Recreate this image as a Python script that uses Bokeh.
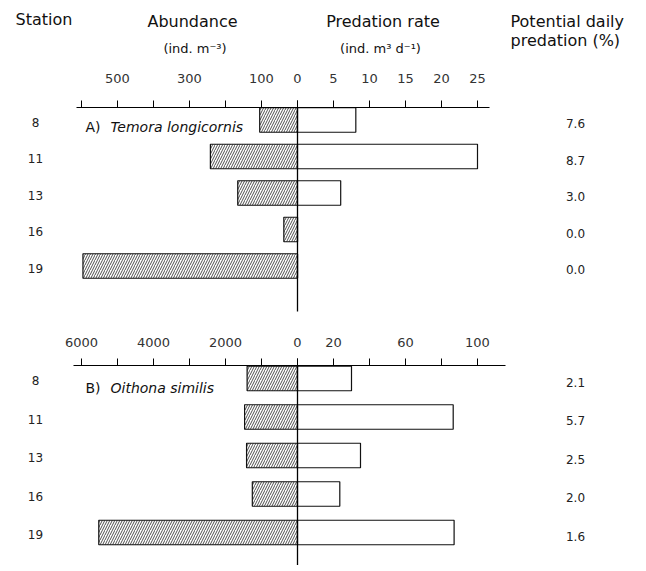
from bokeh.plotting import figure
from bokeh.models import Range1d, LinearAxis, FixedTicker, ColumnDataSource
from bokeh.core.properties import value
from bokeh.embed import file_html
from bokeh.resources import INLINE

# ---------------- data ----------------
stations = ["8", "11", "13", "16", "19"]

abund_temora = [105, 242, 166, 38, 596]          # ind. m-3
pred_temora = [8.1, 25.0, 6.0, 0.0, 0.0]         # ind. m-3 d-1
pdp_temora = ["7.6", "8.7", "3.0", "0.0", "0.0"]  # %

abund_oithona = [1400, 1470, 1415, 1255, 5520]
pred_oithona = [30.0, 86.5, 35.0, 23.5, 87.0]
pdp_oithona = ["2.1", "5.7", "2.5", "2.0", "1.6"]

abundA_ticks = [0, 100, 200, 300, 400, 500, 600]
abundA_labels = ["", "100", "", "300", "", "500", ""]
predA_ticks = [0, 5, 10, 15, 20, 25]
predA_labels = ["0", "5", "10", "15", "20", "25"]
abundB_ticks = [0, 1000, 2000, 3000, 4000, 5000, 6000]
abundB_labels = ["", "", "2000", "", "4000", "", "6000"]
predB_ticks = [0, 20, 40, 60, 80, 100]
predB_labels = ["0", "20", "", "60", "", "100"]

# ---------------- layout constants (pixels) ----------------
W, H = 638, 565
ZX = 297.0          # x of the zero line
PX = 36.0           # pixels per tick interval
A_AXIS_Y, B_AXIS_Y = 107, 365
A_ROW0, A_STEP = 119.5, 36.5
B_ROW0, B_STEP = 378.0, 38.5
BAR_PX = 24.5
FONT = "DejaVu Sans"

p = figure(width=W, height=H, output_backend="svg", toolbar_location=None,
           x_range=Range1d(0, W), y_range=Range1d(H, 0),
           x_axis_type=None, y_axis_type=None, min_border=0)
p.outline_line_color = None
p.background_fill_color = "white"
p.border_fill_color = "white"
p.xgrid.visible = False
p.ygrid.visible = False


def xr(unit_per_tick, reverse=False):
    lo = -ZX / PX * unit_per_tick
    hi = (W - ZX) / PX * unit_per_tick
    if reverse:
        return Range1d(start=-lo, end=-hi)
    return Range1d(start=lo, end=hi)


def yr(row0, step):
    return Range1d(start=(H - row0) / step, end=-row0 / step)


p.extra_x_ranges = {
    "abundA": xr(100, True), "predA": xr(5),
    "abundB": xr(1000, True), "predB": xr(20),
}
p.extra_y_ranges = {"rowsA": yr(A_ROW0, A_STEP), "rowsB": yr(B_ROW0, B_STEP)}


def add_axis(rname, ticks, labels, yloc, bounds, standoff):
    ax = LinearAxis(x_range_name=rname, fixed_location=yloc,
                    ticker=FixedTicker(ticks=ticks, minor_ticks=[]),
                    major_label_overrides={t: l for t, l in zip(ticks, labels)},
                    bounds=bounds)
    ax.axis_line_color = "black"
    ax.axis_line_width = 1.2
    ax.major_tick_line_color = "black"
    ax.major_tick_line_width = 1
    ax.major_tick_out = 7
    ax.major_tick_in = 0
    ax.minor_tick_out = 0
    ax.minor_tick_in = 0
    ax.major_label_text_font = FONT
    ax.major_label_text_font_size = "13px"
    ax.major_label_text_color = "#333333"
    ax.major_label_standoff = standoff
    p.add_layout(ax, "above")


add_axis("abundA", abundA_ticks, abundA_labels, A_AXIS_Y, (0, 615), 18)
add_axis("predA", predA_ticks, predA_labels, A_AXIS_Y, (0, 26.7), 18)
add_axis("abundB", abundB_ticks, abundB_labels, B_AXIS_Y, (0, 6236), 12)
add_axis("predB", predB_ticks, predB_labels, B_AXIS_Y, (0, 115.3), 12)


def panel(abund, pred, pdp, xa, xp, rows, step, axis_y, zero_end):
    src = ColumnDataSource(dict(idx=list(range(len(stations))), st=stations,
                                ab=abund, pr=pred, pdp=pdp))
    h = BAR_PX / step
    p.hbar(y="idx", left=0, right="ab", height=h, source=src,
           x_range_name=xa, y_range_name=rows,
           fill_color="white", line_color="#111111", line_width=1.2,
           hatch_pattern="/", hatch_color="#222222", hatch_scale=5,
           hatch_weight=0.8)
    p.hbar(y="idx", left=0, right="pr", height=h, source=src,
           x_range_name=xp, y_range_name=rows,
           fill_color="white", line_color="#111111", line_width=1.2)
    p.segment(x0=[0], x1=[0], y0=[axis_y], y1=[zero_end], x_range_name=xp,
              line_color="black", line_width=1.3)
    p.text(x=35, y="idx", text="st", source=src, y_range_name=rows,
           text_font=value(FONT), text_font_size="12px", text_color="#222222",
           text_align="center", text_baseline="middle", y_offset=2)
    p.text(x=575, y="idx", text="pdp", source=src, y_range_name=rows,
           text_font=value(FONT), text_font_size="12px", text_color="#222222",
           text_align="center", text_baseline="middle", y_offset=3.5)


panel(abund_temora, pred_temora, pdp_temora, "abundA", "predA", "rowsA",
      A_STEP, A_AXIS_Y, 311)
panel(abund_oithona, pred_oithona, pdp_oithona, "abundB", "predB", "rowsB",
      B_STEP, B_AXIS_Y, H)


def label(x, y, t, size="16px", align="left", style="normal"):
    p.text(x=[x], y=[y], text=[t], text_font=value(FONT), text_font_size=size,
           text_color="#111111", text_align=align, text_baseline="middle",
           text_font_style=style)


label(15, 18.5, "Station")
label(192, 20.5, "Abundance", align="center")
label(194.5, 48, "(ind. m\u207b\u00b3)", size="13px", align="center")
label(382.5, 21, "Predation rate", align="center")
label(380, 48, "(ind. m\u00b3 d\u207b\u00b9)", size="13px", align="center")
label(510, 21, "Potential daily")
label(510, 39.5, "predation (%)")

label(85, 126, "A)", size="14px")
label(110, 126, "Temora longicornis", size="14px", style="italic")
label(85, 387, "B)", size="14px")
label(110, 387, "Oithona similis", size="14px", style="italic")

open("out.html", "w").write(file_html(p, INLINE))
